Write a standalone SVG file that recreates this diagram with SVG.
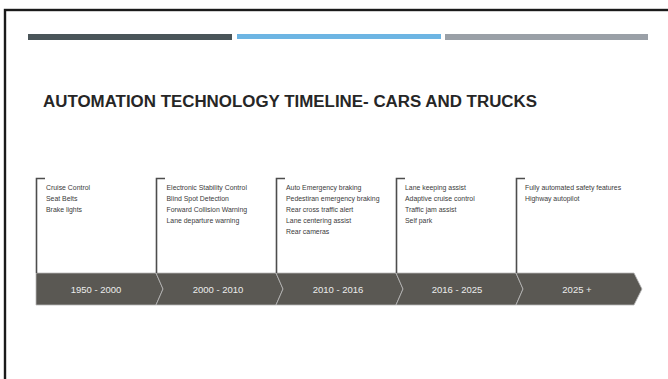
<svg xmlns="http://www.w3.org/2000/svg" width="668" height="379" viewBox="0 0 668 379">
<defs>
<style>
.frame{fill:#fff;stroke:#1a1a1a;stroke-width:2.4}
.title{font-family:"Liberation Sans",Arial,sans-serif;font-weight:bold;font-size:16px;fill:#262626}
.item{font-family:"Liberation Sans",Arial,sans-serif;font-size:6.9px;fill:#3a3a3a}
.br{fill:none;stroke:#4d4d4d;stroke-width:1.6}
.seg{fill:#5a5853;stroke:#b8b8b8;stroke-width:0.8}
.lab{font-family:"Liberation Sans",Arial,sans-serif;font-size:9.5px;font-weight:normal;fill:#ececec;text-anchor:middle}
</style>
</defs>
<rect class="frame" x="5" y="10" width="700" height="400"/>
<g id="header-bars">
<rect x="28" y="34" width="204" height="6" fill="#4a5559"/>
<rect x="237" y="34" width="204" height="5" fill="#6db5e3"/>
<rect x="445" y="34" width="203" height="6" fill="#9aa0a7"/>
</g>
<text class="title" x="43" y="106.5" textLength="494" lengthAdjust="spacingAndGlyphs">AUTOMATION TECHNOLOGY TIMELINE- CARS AND TRUCKS</text>
<g id="timeline-bar">
<path class="seg" d="M36,273 H156 L163,289 L156,305 H36 Z"/>
<path class="seg" d="M156,273 H276 L283,289 L276,305 H156 L163,289 Z"/>
<path class="seg" d="M276,273 H396 L403,289 L396,305 H276 L283,289 Z"/>
<path class="seg" d="M396,273 H516 L523,289 L516,305 H396 L403,289 Z"/>
<path class="seg" d="M516,273 H634 L642,289 L634,305 H516 L523,289 Z"/>
</g>
<g id="connectors">
<path class="br" d="M45,178.5 H36.5 V273"/>
<path class="br" d="M165,178.5 H156.5 V273"/>
<path class="br" d="M285,178.5 H276.5 V273"/>
<path class="br" d="M405,178.5 H396.5 V273"/>
<path class="br" d="M525,178.5 H516.5 V273"/>
</g>
<g id="node-1950">
<text class="item" x="46" y="189.5">Cruise Control</text>
<text class="item" x="46" y="200.5">Seat Belts</text>
<text class="item" x="46" y="211.5">Brake lights</text>
<text class="lab" x="96" y="292.5">1950 - 2000</text>
</g>
<g id="node-2000">
<text class="item" x="166.5" y="189.5">Electronic Stability Control</text>
<text class="item" x="166.5" y="200.5">Blind Spot Detection</text>
<text class="item" x="166.5" y="211.5">Forward Collision Warning</text>
<text class="item" x="166.5" y="222.5">Lane departure warning</text>
<text class="lab" x="218" y="292.5">2000 - 2010</text>
</g>
<g id="node-2010">
<text class="item" x="286" y="189.5">Auto Emergency braking</text>
<text class="item" x="286" y="200.5">Pedestiran emergency braking</text>
<text class="item" x="286" y="211.5">Rear cross traffic alert</text>
<text class="item" x="286" y="222.5">Lane centering assist</text>
<text class="item" x="286" y="233.5">Rear cameras</text>
<text class="lab" x="338" y="292.5">2010 - 2016</text>
</g>
<g id="node-2016">
<text class="item" x="405" y="189.5">Lane keeping assist</text>
<text class="item" x="405" y="200.5">Adaptive cruise control</text>
<text class="item" x="405" y="211.5">Traffic jam assist</text>
<text class="item" x="405" y="222.5">Self park</text>
<text class="lab" x="457" y="292.5">2016 - 2025</text>
</g>
<g id="node-2025">
<text class="item" x="525" y="189.5">Fully automated safety features</text>
<text class="item" x="525" y="200.5">Highway autopilot</text>
<text class="lab" x="577" y="292.5">2025 +</text>
</g>
</svg>
